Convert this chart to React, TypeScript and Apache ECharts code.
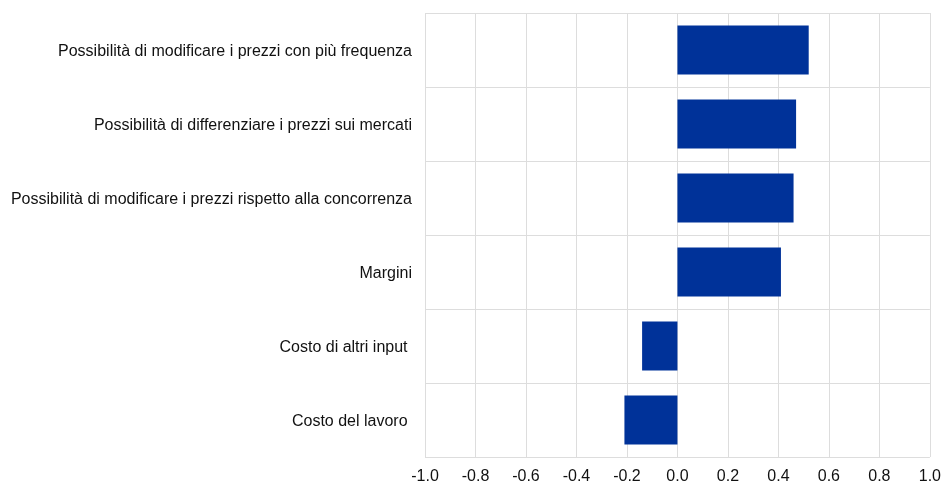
import React, { useEffect, useRef } from "react";
import * as echarts from "echarts";

const categories = [
  "Costo del lavoro ",
  "Costo di altri input ",
  "Margini",
  "Possibilità di modificare i prezzi rispetto alla concorrenza",
  "Possibilità di differenziare i prezzi sui mercati",
  "Possibilità di modificare i prezzi con più frequenza",
];
const values = [-0.21, -0.14, 0.41, 0.46, 0.47, 0.52];
const xMin = -1.0;
const xMax = 1.0;
const xInterval = 0.2;

const FONT = "'Liberation Sans', Arial, sans-serif";

export default function App() {
  const ref = useRef<HTMLDivElement>(null);
  useEffect(() => {
    if (!ref.current) return;
    const chart = echarts.init(ref.current, undefined, { renderer: "svg" });
    chart.setOption({
      animation: false,
      textStyle: { fontFamily: FONT, fontSize: 16 },
      grid: { left: 425, right: 12, top: 13, bottom: 25, containLabel: false },
      xAxis: {
        type: "value",
        min: xMin,
        max: xMax,
        interval: xInterval,
        axisLine: { show: false },
        axisTick: { show: false },
        splitLine: { show: true, lineStyle: { color: "#dddddd", width: 1 } },
        axisLabel: {
          color: "#111",
          fontSize: 16,
          fontFamily: FONT,
          margin: 10,
          formatter: (v: number) => v.toFixed(1),
        },
      },
      yAxis: {
        type: "category",
        data: categories,
        axisLine: { show: false },
        axisTick: { show: false },
        splitLine: { show: true, lineStyle: { color: "#dddddd", width: 1 } },
        axisLabel: { color: "#111", fontSize: 16, fontFamily: FONT, margin: 13 },
      },
      series: [
        {
          type: "bar",
          data: values,
          barWidth: "66%",
          itemStyle: { color: "#003299" },
        },
      ],
    });
    return () => chart.dispose();
  }, []);
  return (
    <div
      ref={ref}
      style={{ position: "fixed", left: 0, top: 0, width: 944, height: 483 }}
    />
  );
}
